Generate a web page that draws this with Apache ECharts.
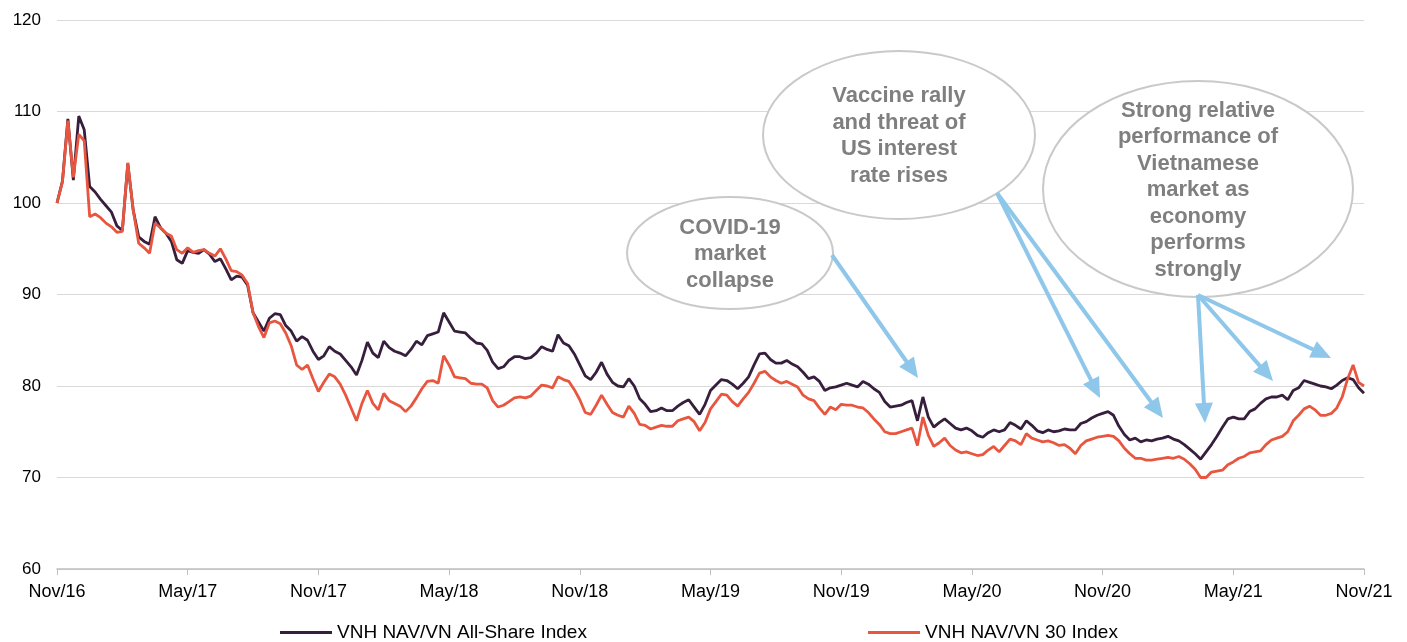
<!DOCTYPE html>
<html>
<head>
<meta charset="utf-8">
<script src="https://cdn.jsdelivr.net/npm/echarts@6/dist/echarts.min.js"></script>
<style>html,body{margin:0;padding:0;background:#fff}#c{width:1407px;height:642px}</style>
</head>
<body>
<div id="c"></div>
<script>
// weekly-ish samples (step = 0.25 month) from Nov/16 to Nov/21
const STEP_MONTHS = 0.25;
const tickLabels = ['Nov/16','May/17','Nov/17','May/18','Nov/18','May/19','Nov/19','May/20','Nov/20','May/21','Nov/21'];
const seriesNames = ['VNH NAV/VN All-Share Index','VNH NAV/VN 30 Index'];
const allShare = [
100,102.4,109.2,102.5,109.5,108.0,101.8,101.2,100.4,99.7,
99.0,97.5,97.0,104.3,99.2,96.3,95.8,95.5,98.5,97.3,
96.7,95.8,93.8,93.4,94.8,94.6,94.5,94.9,94.4,93.6,
93.9,92.8,91.6,92.0,91.9,91.0,88.0,87.0,86.0,87.4,
87.9,87.8,86.6,86.0,84.9,85.4,85.0,83.8,82.9,83.3,
84.3,83.8,83.5,82.8,82.1,81.2,82.8,84.8,83.6,83.1,
84.9,84.2,83.8,83.6,83.3,84.0,84.9,84.5,85.5,85.7,
85.9,88.0,87.0,86.0,85.9,85.8,85.2,84.7,84.6,83.9,
82.6,81.9,82.1,82.8,83.2,83.2,83.0,83.1,83.6,84.3,
84.0,83.8,85.6,84.7,84.4,83.5,82.3,81.1,80.7,81.5,
82.6,81.3,80.4,80.0,79.9,80.8,80.0,78.6,78.0,77.2,
77.3,77.6,77.3,77.3,77.8,78.2,78.5,77.7,76.9,78.0,
79.5,80.1,80.7,80.6,80.2,79.7,80.3,81.0,82.3,83.5,
83.6,82.9,82.5,82.5,82.8,82.4,82.1,81.5,80.8,81.0,
80.5,79.5,79.8,79.9,80.1,80.3,80.1,79.9,80.5,80.2,
79.7,79.3,78.3,77.7,77.8,77.9,78.2,78.4,76.2,78.8,
76.6,75.5,76.0,76.4,75.9,75.4,75.2,75.4,75.1,74.6,
74.4,74.9,75.2,75.0,75.2,76.0,75.7,75.3,76.2,75.7,
75.1,74.9,75.2,75.0,75.1,75.3,75.2,75.2,75.9,76.1,
76.5,76.8,77.0,77.2,76.8,75.6,74.7,74.1,74.3,73.9,
74.1,74.0,74.2,74.3,74.5,74.2,74.0,73.6,73.1,72.6,
72.0,72.8,73.6,74.5,75.5,76.4,76.6,76.4,76.4,77.2,
77.5,78.1,78.6,78.8,78.8,79.0,78.5,79.5,79.8,80.6,
80.4,80.2,80.0,79.9,79.7,80.1,80.6,80.9,80.7,79.8,
79.2
];
const vn30 = [
100,102.3,109.0,102.8,107.5,106.8,98.5,98.8,98.4,97.8,
97.4,96.8,96.9,104.4,99.2,95.6,95.1,94.5,97.8,97.3,
96.7,96.4,94.9,94.5,95.1,94.6,94.8,94.9,94.5,94.2,
95.0,93.9,92.6,92.5,92.1,91.2,88.0,86.5,85.3,86.9,
87.1,86.8,85.8,84.4,82.3,81.8,82.3,80.8,79.4,80.4,
81.3,81.0,80.2,79.0,77.6,76.2,78.1,79.5,78.1,77.4,
79.2,78.4,78.1,77.8,77.2,77.8,78.7,79.7,80.5,80.6,
80.3,83.3,82.3,81.0,80.9,80.8,80.3,80.2,80.2,79.8,
78.4,77.7,77.9,78.3,78.7,78.8,78.7,78.9,79.5,80.1,
80.0,79.8,81.0,80.7,80.5,79.6,78.5,77.1,76.9,77.9,
79.0,78.0,77.1,76.8,76.6,77.8,77.0,75.8,75.7,75.3,
75.5,75.7,75.6,75.6,76.2,76.4,76.6,76.1,75.1,76.0,
77.5,78.3,79.1,79.0,78.3,77.8,78.6,79.3,80.3,81.4,
81.6,81.0,80.6,80.3,80.5,80.2,79.9,79.0,78.6,78.4,
77.6,76.9,77.7,77.4,78.0,77.9,77.9,77.7,77.6,77.1,
76.4,75.8,75.0,74.8,74.8,75.0,75.2,75.4,73.5,76.6,
74.6,73.4,73.8,74.3,73.5,73.0,72.7,72.8,72.6,72.4,
72.5,73.0,73.4,72.8,73.5,74.2,74.0,73.6,74.8,74.3,
74.1,73.9,74.0,73.8,73.5,73.6,73.2,72.6,73.5,74.0,
74.2,74.4,74.5,74.6,74.5,74.0,73.2,72.6,72.1,72.1,
71.9,71.9,72.0,72.1,72.2,72.1,72.3,72.0,71.5,70.9,
70.0,70.0,70.6,70.7,70.8,71.4,71.7,72.1,72.3,72.7,
72.8,72.9,73.6,74.1,74.3,74.5,75.0,76.2,76.8,77.5,
77.8,77.4,76.8,76.8,77.0,77.6,78.8,80.8,82.3,80.4,
80.0
];

const chart = echarts.init(document.getElementById('c'), null, {renderer:'canvas'});
const toPairs = arr => arr.map((v,i)=>[i*STEP_MONTHS, v]);

const FONT = '"Liberation Sans", Arial, sans-serif';
const annFont = 'bold 22px ' + FONT;
const annColor = '#7f7f7f';
const ellStroke = '#c9c9c9';
const arrowColor = '#8fc7ea';

const ellipses = [
  {cx:730, cy:253, rx:103, ry:56, text:'COVID-19\nmarket\ncollapse'},
  {cx:899, cy:135, rx:136, ry:84, text:'Vaccine rally\nand threat of\nUS interest\nrate rises'},
  {cx:1198, cy:189, rx:155, ry:108, text:'Strong relative\nperformance of\nVietnamese\nmarket as\neconomy\nperforms\nstrongly'}
];
const arrows = [
  [832,255,918,378],
  [997,193,1100,398],
  [997,193,1163,418],
  [1198,295,1205,423],
  [1198,295,1273,381],
  [1198,295,1331,358]
];

const graphics = [];
ellipses.forEach(e=>{
  graphics.push({type:'ellipse', shape:{cx:e.cx, cy:e.cy, rx:e.rx, ry:e.ry},
    style:{fill:'#fff', stroke:ellStroke, lineWidth:2}, z:10});
  graphics.push({type:'text', x:e.cx, y:e.cy+1, z:11,
    style:{text:e.text, font:annFont, fill:annColor, align:'center', verticalAlign:'middle', lineHeight:26.5}});
});
arrows.forEach(a=>{
  const [x1,y1,x2,y2]=a;
  const dx=x2-x1, dy=y2-y1, L=Math.hypot(dx,dy);
  const ux=dx/L, uy=dy/L, hl=20, hw=9;
  const bx=x2-ux*hl, by=y2-uy*hl;
  graphics.push({type:'line', shape:{x1:x1,y1:y1,x2:bx+ux*2,y2:by+uy*2},
    style:{stroke:arrowColor, lineWidth:4}, z:12});
  graphics.push({type:'polygon', shape:{points:[[x2,y2],[bx-uy*hw,by+ux*hw],[bx+uy*hw,by-ux*hw]]},
    style:{fill:arrowColor}, z:12});
});

const legendCommon = {itemWidth:52, itemHeight:3, icon:'rect', padding:0, itemGap:4,
  textStyle:{fontSize:19, color:'#000', fontFamily:FONT, padding:[0,0,0,0]}};

chart.setOption({
  animation:false,
  backgroundColor:'#fff',
  textStyle:{fontFamily:FONT},
  grid:{left:57, right:43, top:20, bottom:73, containLabel:false},
  legend:[
    Object.assign({data:[seriesNames[0]], left:280, top:623}, legendCommon),
    Object.assign({data:[seriesNames[1]], left:868, top:623}, legendCommon)
  ],
  xAxis:{type:'value', min:0, max:60, interval:6,
    axisLine:{show:true, lineStyle:{color:'#bfbfbf', width:1.5}},
    axisTick:{show:true, length:6, lineStyle:{color:'#bfbfbf'}},
    splitLine:{show:false},
    axisLabel:{fontSize:18, color:'#000', margin:14, formatter:v=>tickLabels[Math.round(v/6)]||''}},
  yAxis:{type:'value', min:60, max:120, interval:10,
    axisLine:{show:false}, axisTick:{show:false},
    splitLine:{lineStyle:{color:'#d9d9d9', width:1}},
    axisLabel:{fontSize:17, color:'#000', margin:16}},
  series:[
    {name:seriesNames[0], type:'line', data:toPairs(allShare), showSymbol:false, symbol:'none',
     lineStyle:{color:'#361e3c', width:2.8}, itemStyle:{color:'#361e3c'}, z:3},
    {name:seriesNames[1], type:'line', data:toPairs(vn30), showSymbol:false, symbol:'none',
     lineStyle:{color:'#e8563f', width:2.8}, itemStyle:{color:'#e8563f'}, z:4}
  ],
  graphic:graphics
});
</script>
</body>
</html>
